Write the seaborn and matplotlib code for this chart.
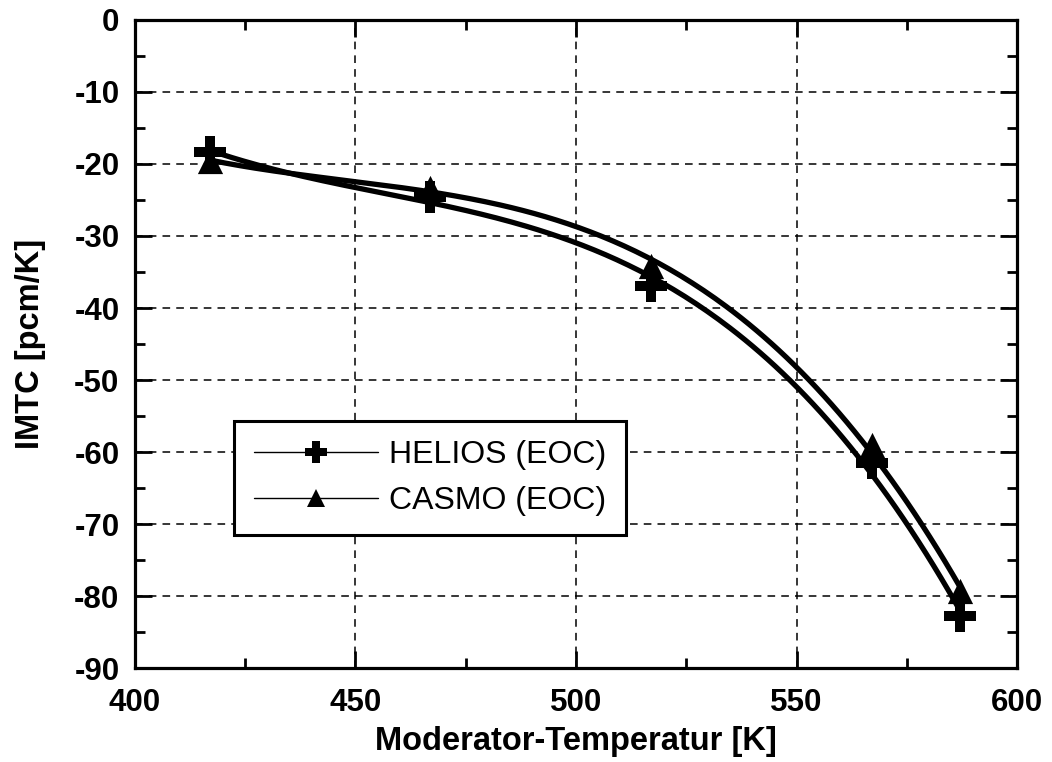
import numpy as np
import pandas as pd
import matplotlib
matplotlib.use("Agg")
import matplotlib.pyplot as plt
import seaborn as sns
from matplotlib.ticker import MultipleLocator

# Values
temperature = [417, 467, 517, 567, 587]
helios_imtc = [-18.3, -24.6, -37.0, -61.5, -82.8]
casmo_imtc = [-19.6, -23.3, -34.2, -59.0, -79.3]

sns.set_style("ticks")
plt.rcParams['font.family'] = ['Liberation Sans', 'DejaVu Sans']
plt.rcParams['font.size'] = 22
plt.rcParams['axes.unicode_minus'] = False
for key in ['text.color', 'axes.labelcolor', 'xtick.color', 'ytick.color', 'axes.edgecolor']:
    plt.rcParams[key] = 'black'

fig, ax = plt.subplots(figsize=(10.52, 7.62), dpi=100)
fig.subplots_adjust(left=0.128, right=0.967, top=0.974, bottom=0.123)

df = pd.DataFrame({'T': temperature, 'HELIOS': helios_imtc, 'CASMO': casmo_imtc})

# smooth fitted curves through the measured points
t_fine = np.linspace(min(temperature), max(temperature), 200)
for col in ['HELIOS', 'CASMO']:
    coef = np.polyfit(df['T'], df[col], 3)
    sns.lineplot(x=t_fine, y=np.polyval(coef, t_fine), ax=ax, color='black',
                 linewidth=3.8, legend=False)

sns.scatterplot(data=df, x='T', y='HELIOS', ax=ax, marker='P', s=520,
                color='black', edgecolor='black', linewidth=0, zorder=5)
sns.scatterplot(data=df, x='T', y='CASMO', ax=ax, marker='^', s=330,
                color='black', edgecolor='black', linewidth=0, zorder=5)

# legend proxies (thin line + marker)
h1, = ax.plot([], [], color='black', linewidth=1, marker='P', markersize=16,
              markeredgewidth=0, label='HELIOS (EOC)')
h2, = ax.plot([], [], color='black', linewidth=1, marker='^', markersize=13,
              markeredgewidth=0, label='CASMO (EOC)')
leg = ax.legend(handles=[h1, h2], loc='lower left', bbox_to_anchor=(0.113, 0.205),
                frameon=True, fancybox=False, edgecolor='black', fontsize=23,
                handlelength=3.9, borderpad=0.6, labelspacing=0.5,
                handletextpad=0.35, borderaxespad=0)
leg.get_frame().set_linewidth(2.2)
leg.get_frame().set_alpha(1)

ax.set_xlim(400, 600)
ax.set_ylim(-90, 0)
ax.xaxis.set_major_locator(MultipleLocator(50))
ax.xaxis.set_minor_locator(MultipleLocator(25))
ax.yaxis.set_major_locator(MultipleLocator(10))
ax.yaxis.set_minor_locator(MultipleLocator(5))
ax.tick_params(which='both', direction='in', top=True, right=True, width=2,
               labelsize=22.5)
ax.tick_params(axis='x', pad=14)
ax.tick_params(axis='y', pad=11)
ax.tick_params(which='major', length=12)
ax.tick_params(which='minor', length=7)
for lab in ax.get_xticklabels() + ax.get_yticklabels():
    lab.set_fontweight('bold')

ax.grid(True, which='major', color='black', linestyle=(0, (5, 4)), linewidth=1.1)
for sp in ax.spines.values():
    sp.set_linewidth(2.3)
    sp.set_visible(True)

ax.set_xlabel('Moderator-Temperatur [K]', fontsize=23.5, fontweight='bold', labelpad=6)
ax.set_ylabel('IMTC [pcm/K]', fontsize=23.5, fontweight='bold', labelpad=20)

fig.savefig('out.png', dpi=100)
